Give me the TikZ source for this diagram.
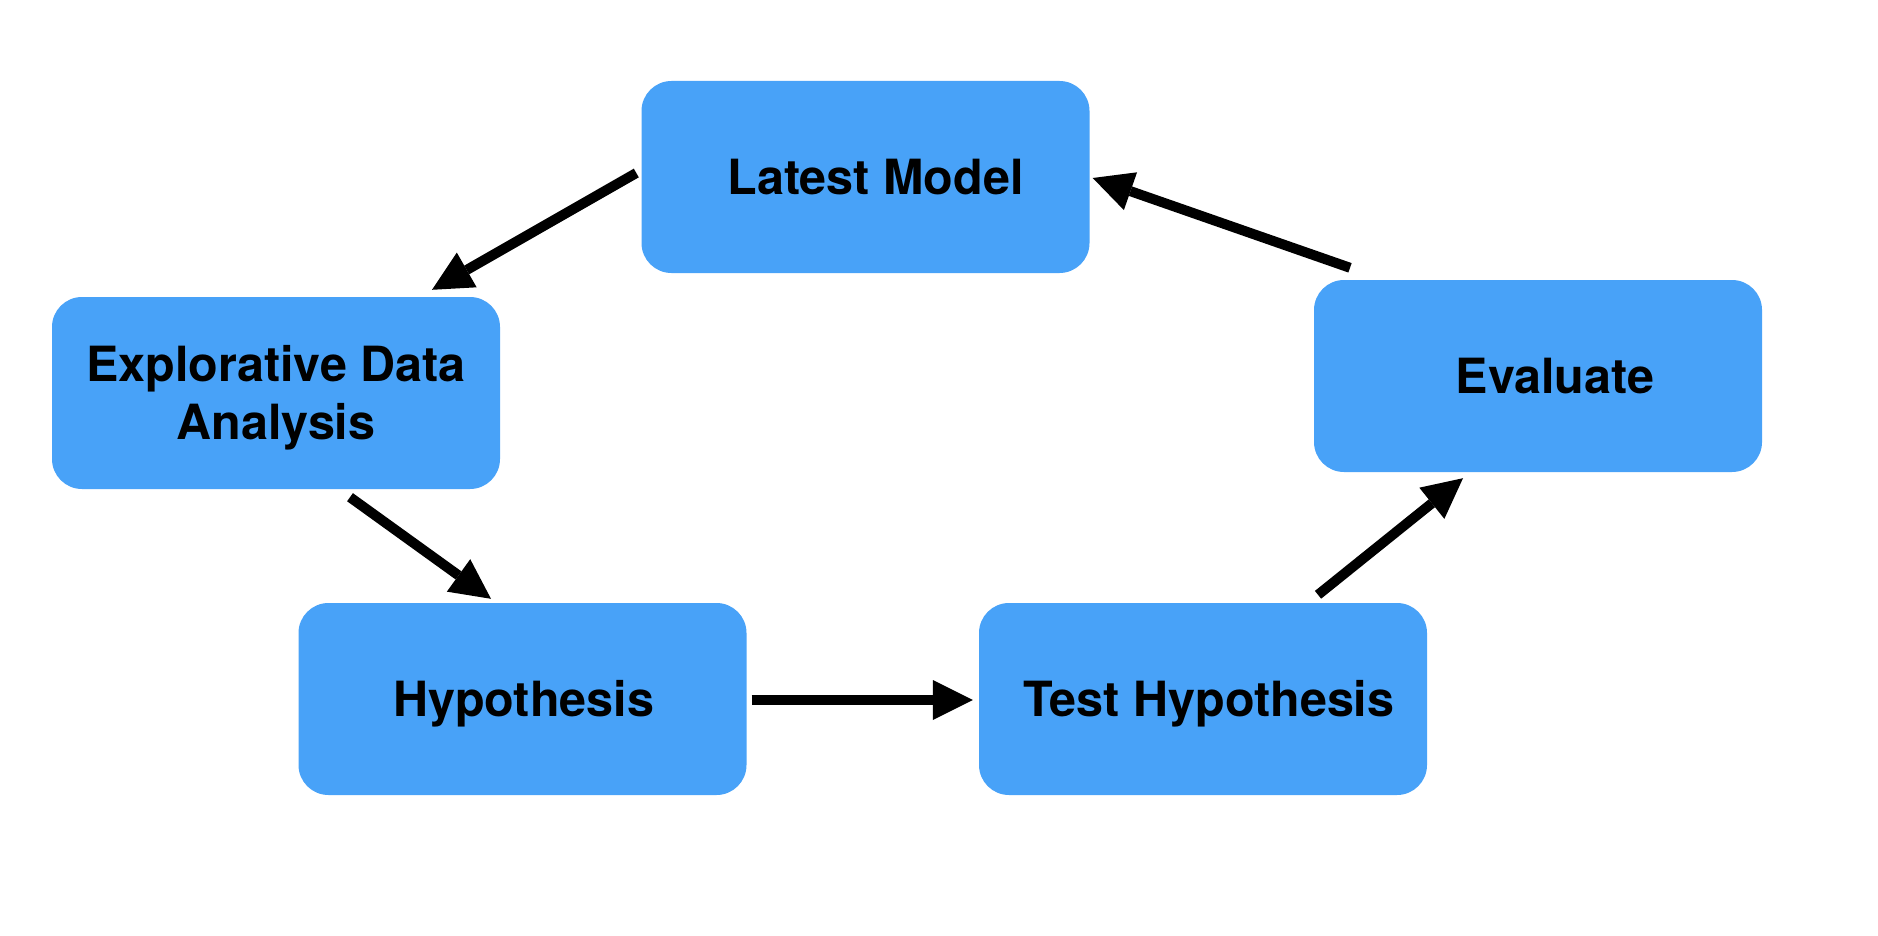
\documentclass[tikz,border=0pt]{standalone}
\usepackage{fontspec}
\setmainfont{TeX Gyre Heros}
\usetikzlibrary{arrows.meta}
\definecolor{boxblue}{RGB}{72,162,248}
\begin{document}
\begin{tikzpicture}[x=1pt,y=-1pt,
  stage/.style={rectangle, rounded corners=30pt, fill=boxblue, minimum width=448pt, minimum height=192pt, inner sep=0pt},
  lbl/.style={font=\fontsize{48.5}{58}\selectfont\bfseries, text height=35pt, text depth=0pt, align=center, inner sep=0pt},
  arr/.style={line width=10pt, -{Triangle[length=40pt,width=40pt,line width=0pt]}}]
\useasboundingbox[fill=white] (0,0) rectangle (1878,936);
\node[stage, label={[lbl,xshift=10pt]center:Latest Model}] (lm) at (865.5,177) {};
\node[stage, label={[lbl,text height=93pt]center:{Explorative Data\\Analysis}}] (eda) at (276,393) {};
\node[stage, label={[lbl,xshift=1pt]center:Hypothesis}] (hyp) at (522.5,699) {};
\node[stage, label={[lbl,xshift=6pt]center:Test Hypothesis}] (th) at (1203,699) {};
\node[stage, label={[lbl,xshift=17pt]center:Evaluate}] (ev) at (1538,376) {};
\draw[arr] ([xshift=-5pt,yshift=4pt]lm.west) -- ([xshift=156pt,yshift=7pt]eda.north);
\draw[arr] ([xshift=74pt,yshift=-8pt]eda.south) -- ([xshift=-31.5pt,yshift=4pt]hyp.north);
\draw[arr] ([xshift=5pt,yshift=-1pt]hyp.east) -- ([xshift=-6pt,yshift=-1pt]th.west);
\draw[arr] ([xshift=115pt,yshift=8pt]th.north) -- ([xshift=-75pt,yshift=-6pt]ev.south);
\draw[arr] ([xshift=-188pt,yshift=12pt]ev.north) -- ([xshift=3pt,yshift=-1pt]lm.east);
\end{tikzpicture}
\end{document}
